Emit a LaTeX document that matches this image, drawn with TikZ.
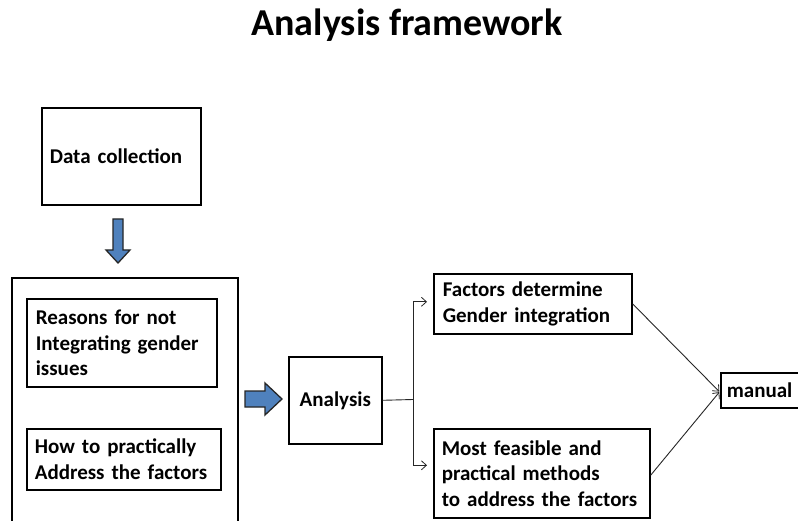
\documentclass[tikz,border=0pt]{standalone}
\usepackage{fontspec}
\setmainfont{Carlito}
\usetikzlibrary{arrows.meta}
\definecolor{officeblue}{HTML}{4F81BD}
\begin{document}
\begin{tikzpicture}[x=1pt,y=-1pt,
  box/.style={draw, line width=1.6pt, inner sep=0pt, align=left, anchor=north west,
    font=\fontsize{21}{25.5}\selectfont\bfseries},
  blockarrow/.style={fill=officeblue, draw=black!85, line width=1.3pt, line join=miter},
  conn/.style={line width=0.9pt, draw=black!85},
  tip/.style={-{Straight Barb[length=5pt,width=9pt,line width=0.8pt]}}]
\useasboundingbox (0,0) rectangle (798,521);
\clip (0,0) rectangle (798,521);
\fill[white] (0,0) rectangle (798,521);

\node[anchor=base, font=\fontsize{38}{42}\selectfont\bfseries] (title) at (407,36) {Analysis framework};

% Data collection
\node[box, minimum width=159pt, minimum height=97pt, text width=143pt] (dc) at (41,107) {Data collection};

% down block arrow
\draw[blockarrow] (113,219) -- (123,219) -- (123,250) -- (130,250) -- (118,263) -- (106,250) -- (113,250) -- cycle;

% outer container (bottom is off the page)
\node[draw, line width=2pt, minimum width=226pt, minimum height=270pt, anchor=north west, inner sep=0pt] (outer) at (11,277) {};

\node[box, minimum width=190pt, minimum height=88pt, text width=172pt] (reasons) at (26,298) {Reasons for not\\Integrating gender\\issues};
\node[box, minimum width=194pt, minimum height=61pt, text width=178pt] (how) at (26,428) {How to practically\\Address the factors};

% right block arrow
\draw[blockarrow] (245,391) -- (265,391) -- (265,383) -- (282,399) -- (265,415) -- (265,407) -- (245,407) -- cycle;

\node[box, minimum width=93pt, minimum height=87pt, text width=85pt, align=center] (ana) at (288,356) {Analysis};

\node[box, minimum width=198pt, minimum height=60pt, text width=180pt] (fac) at (433,273) {Factors determine\\Gender integration};
\node[box, minimum width=216pt, minimum height=89pt, text width=200pt] (most) at (433,428) {Most feasible and\\practical methods\\to address the factors};
\node[box, minimum width=77pt, minimum height=35pt, text width=70pt, inner xsep=6pt] (man) at (720,372) {manual};

\coordinate (br) at (413,399.5);
\draw[conn] (ana.east) -- (br);
\draw[conn, tip, shorten >=6pt] (br) |- ([yshift=2pt]fac.west);
\draw[conn, tip, shorten >=6pt] (br) |- ([yshift=8pt]most.west);
\draw[conn, tip, shorten >=1pt] (fac.east) -- ([yshift=-2pt]man.west);
\draw[conn, tip, shorten >=1pt] ([yshift=-2pt]most.east) -- ([yshift=-1pt]man.west);
\end{tikzpicture}
\end{document}
